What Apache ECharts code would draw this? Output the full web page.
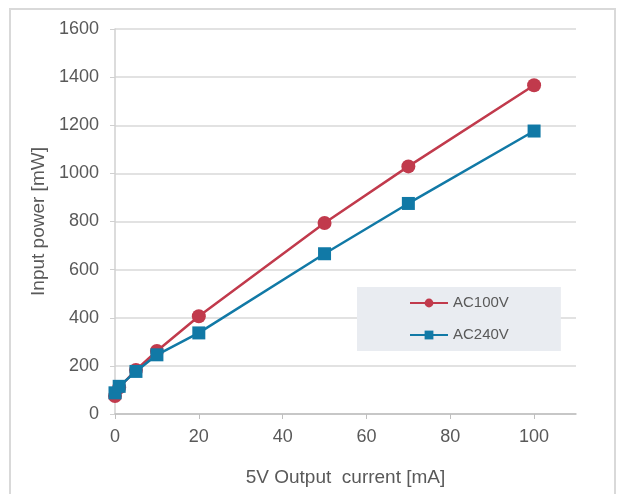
<!DOCTYPE html>
<html><head><meta charset="utf-8">
<script src="https://cdn.jsdelivr.net/npm/echarts@6/dist/echarts.min.js"></script>
<style>html,body{margin:0;padding:0;background:#fff}#c{width:618px;height:494px}</style>
</head><body><div id="c"></div>
<script>
const currentX = [0, 1, 5, 10, 20, 50, 70, 100];
const ac100 = [75, 110, 183, 262, 406, 794, 1029, 1366];
const ac240 = [88, 115, 177, 246, 337, 666, 875, 1176];
const seriesNames = ['AC100V', 'AC240V'];
const textColor = '#595959';
const fontFam = '"Liberation Sans", Arial, sans-serif';
const chart = echarts.init(document.getElementById('c'));
chart.setOption({
  animation: false,
  textStyle: {fontFamily: fontFam},
  graphic: [{type: 'rect', shape: {x: 10, y: 9, width: 605, height: 500}, style: {fill: 'none', stroke: '#d9d9d9', lineWidth: 2}, z: -1}],
  grid: {left: 115, right: 42, top: 29, bottom: 80},
  legend: {
    orient: 'vertical', left: 357, top: 287,
    padding: [8, 52, 8, 52], itemGap: 16, itemWidth: 38, itemHeight: 11,
    backgroundColor: '#E9ECF1',
    textStyle: {color: textColor, fontSize: 15, lineHeight: 16, fontFamily: fontFam},
    data: seriesNames
  },
  xAxis: {
    type: 'value', min: 0, max: 110, interval: 20,
    name: '5V Output  current [mA]', nameLocation: 'middle', nameGap: 54,
    nameTextStyle: {color: textColor, fontSize: 19},
    axisLine: {lineStyle: {color: '#bfbfbf', width: 1.5}},
    axisTick: {show: true, length: 5, lineStyle: {color: '#bfbfbf'}},
    axisLabel: {color: textColor, fontSize: 18, margin: 14, showMaxLabel: false},
    splitLine: {show: false}
  },
  yAxis: {
    type: 'value', min: 0, max: 1600, interval: 200,
    name: 'Input power [mW]', nameLocation: 'middle', nameGap: 66,
    nameTextStyle: {color: textColor, fontSize: 19},
    axisLine: {show: true, lineStyle: {color: '#d0d0d0', width: 1.5}},
    axisTick: {show: true, length: 5, lineStyle: {color: '#d0d0d0'}},
    axisLabel: {color: textColor, fontSize: 18, margin: 16, formatter: v => String(v)},
    splitLine: {show: true, lineStyle: {color: '#d9d9d9', width: 1.5}}
  },
  series: [
    {name: seriesNames[0], type: 'line', data: currentX.map((x, i) => [x, ac100[i]]),
     symbol: 'circle', symbolSize: 14, color: '#C13A4C', lineStyle: {width: 2.5}, z: 2},
    {name: seriesNames[1], type: 'line', data: currentX.map((x, i) => [x, ac240[i]]),
     symbol: 'rect', symbolSize: 13, color: '#1179A6', lineStyle: {width: 2.5}, z: 3}
  ]
});
</script></body></html>
